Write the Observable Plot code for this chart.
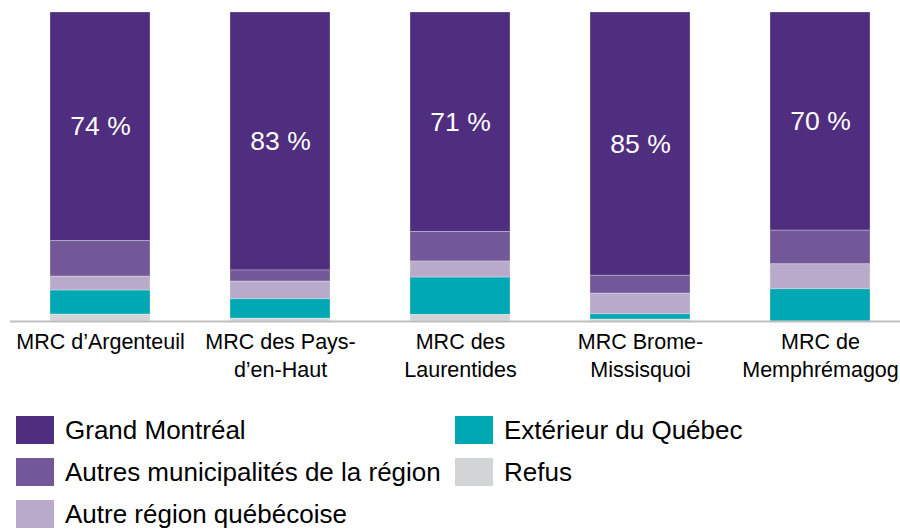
<!DOCTYPE html>
<html>
<head>
<meta charset="utf-8">
<script src="https://cdn.jsdelivr.net/npm/d3@7"></script>
<script src="https://cdn.jsdelivr.net/npm/@observablehq/plot@0.6"></script>
<style>
  body { margin: 0; background: #fff; font-family: "Liberation Sans", Arial, sans-serif; }
  #chart svg { display: block; }
  .legend { display: grid; grid-template-columns: 439px 400px; grid-auto-rows: 42px; margin-left: 16px; margin-top: 26px; }
  .item { display: flex; align-items: flex-start; font-size: 26px; color: #000; }
  .sw { width: 38px; height: 28px; margin-right: 11px; flex: none; }
  .item span.t { line-height: 29px; white-space: nowrap; }
</style>
</head>
<body>
<div id="chart"></div>
<div class="legend" id="legend"></div>
<script>
const mrcs = ["MRC d’Argenteuil", "MRC des Pays-\nd’en-Haut", "MRC des\nLaurentides", "MRC Brome-\nMissisquoi", "MRC de\nMemphrémagog"];
const categories = ["Grand Montréal", "Autres municipalités de la région", "Autre région québécoise", "Extérieur du Québec", "Refus"];
const colors = ["#4f2d7f", "#725898", "#b9aacb", "#00a8b4", "#d3d4d6"];
const grandMontreal = [74.0, 83.5, 71.0, 85.2, 70.6];
const autresMunicipalites = [11.5, 3.6, 9.6, 5.8, 10.9];
const autreRegion = [4.5, 5.7, 5.2, 6.7, 8.1];
const exterieur = [7.8, 6.3, 12.1, 1.7, 10.4];
const refus = [2.2, 0.9, 2.1, 0.6, 0.0];
const labels = ["74 %", "83 %", "71 %", "85 %", "70 %"];

const series = [grandMontreal, autresMunicipalites, autreRegion, exterieur, refus];
const rows = [];
mrcs.forEach((m, i) => {
  categories.forEach((c, j) => rows.push({mrc: m, cat: c, value: series[j][i], label: j === 0 ? labels[i] : null}));
});
const stackOrder = ["Refus", "Extérieur du Québec", "Autre région québécoise", "Autres municipalités de la région", "Grand Montréal"];

const chart = Plot.plot({
  width: 900,
  height: 390,
  marginTop: 12,
  marginBottom: 69,
  marginLeft: 10,
  marginRight: 0,
  style: {fontFamily: "'Liberation Sans', Arial, sans-serif", background: "#fff"},
  x: {domain: mrcs, range: [10, 910], paddingInner: 0.444, paddingOuter: 0.222, label: null},
  y: {domain: [0, 100], axis: null},
  color: {domain: categories, range: colors},
  marks: [
    Plot.barY(rows, Plot.stackY({x: "mrc", y: "value", fill: "cat", order: stackOrder, stroke: "#fff", strokeOpacity: 0.35, strokeWidth: 0.8})),
    Plot.ruleY([0], {stroke: "#bfbfbf", strokeWidth: 2}),
    Plot.text(rows, Plot.stackY({x: "mrc", y: "value", z: "cat", order: stackOrder, text: "label", fill: "#fff", fontSize: 26.5})),
    Plot.axisX({tickSize: 0, tickPadding: 8, fontSize: 21.5, lineHeight: 1.3, fill: "#000", label: null})
  ]
});
document.getElementById("chart").appendChild(chart);

const legendOrder = [0, 3, 1, 4, 2];
const leg = document.getElementById("legend");
legendOrder.forEach(j => {
  const d = document.createElement("div");
  d.className = "item";
  d.innerHTML = `<span class="sw" style="background:${colors[j]}"></span><span class="t">${categories[j]}</span>`;
  leg.appendChild(d);
});
</script>
</body>
</html>
